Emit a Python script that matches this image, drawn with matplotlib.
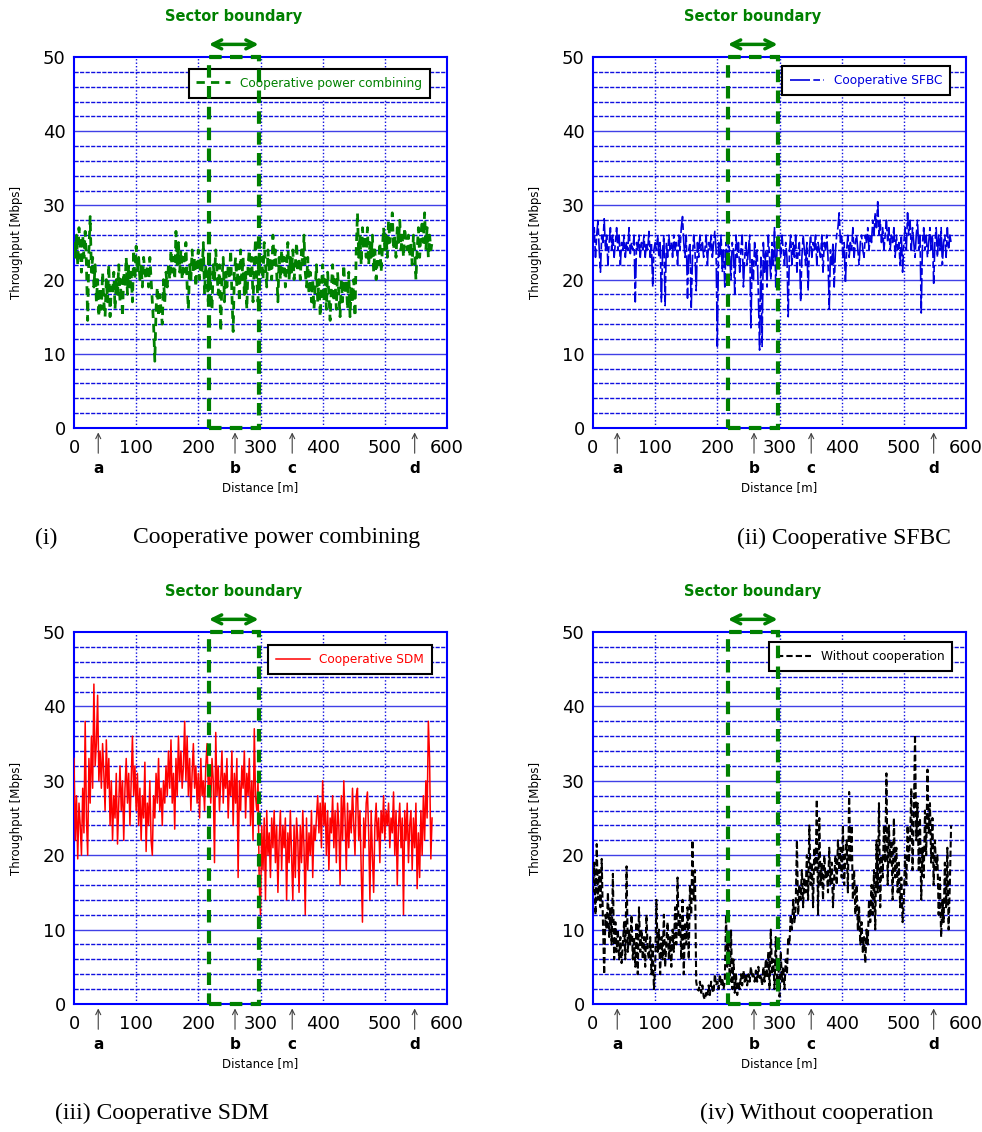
import numpy as np
import matplotlib.pyplot as plt
from matplotlib.patches import Rectangle

# throughput samples every 2 m along the route, 0 .. 576 m
step = 2

power_comb = [
    25, 23, 26, 22, 27, 24, 21, 26, 23, 26.5, 22, 14.5, 24, 28.5, 21, 23, 19, 22, 17, 20, 15, 19, 16, 21, 17,
    15, 20, 17, 22, 15, 19, 18, 21, 16, 20, 18, 22, 17, 20, 15, 21, 19, 23, 18, 22, 19, 21, 17, 24, 20,
    24.5, 21, 23, 20, 22, 19, 23, 21, 20, 22, 19, 23, 20, 17, 14, 9, 16, 19, 15, 18, 16, 14, 20, 17, 21,
    19, 22, 20, 24, 21, 23, 20, 26.5, 22, 25, 21, 24, 20, 23, 21, 25, 19, 16, 22, 20, 24, 21, 23, 19, 22,
    24, 20, 23, 21, 25, 18, 22, 20, 17, 23, 19, 16, 22, 20, 24, 21, 18, 22, 13, 20, 23, 17, 21, 19, 22,
    20, 24, 18, 13, 21, 23, 19, 22, 17, 24, 20, 23, 18, 21, 16, 22, 24, 20, 23, 17, 22, 25.5, 20, 17, 24,
    21, 23, 20, 25, 22, 19, 24, 21, 23, 20, 26, 22, 24, 21, 17, 23, 20, 24, 21, 23, 19, 22, 25, 20, 23,
    21, 24, 20, 22, 25, 21, 23, 20, 24, 22, 26, 21, 19, 23, 18, 21, 17, 20, 16, 19, 22, 17, 20, 15, 19,
    22, 17, 20, 16, 21, 18, 14.5, 19, 22, 17, 20, 16, 21, 18, 15, 20, 17, 22, 18, 20, 16, 21, 15, 19, 17,
    20, 15, 24, 29, 23, 26, 22, 27, 24, 26, 23, 27, 22, 25, 23, 26, 21, 24, 20, 23, 22, 25, 21, 24, 27,
    24, 26, 23, 28, 25, 27, 29, 24, 26, 23, 27, 25, 28, 24, 26, 23, 27, 25, 24, 26, 23, 25, 22, 26, 24,
    20, 24, 27, 23, 26, 28, 25, 29, 24, 27, 23, 26, 24, 25,
]

sfbc = [
    25, 27, 23, 26, 28, 24, 21, 26, 25, 28.2, 24, 26, 22, 25, 27, 24, 26, 23, 25, 27, 24, 26, 22, 25, 24,
    26, 23, 25, 24, 27, 23.5, 25, 24, 26, 17, 25, 24, 26, 23, 25, 24, 26, 23, 25, 24, 26.5, 23, 25, 19, 24,
    25, 24, 26, 23, 25, 17, 24, 26, 16.5, 25, 23, 26, 24, 25, 23, 26, 24, 25, 22, 26, 24, 27, 28.5, 25, 23,
    26, 17.5, 24, 25, 16, 23, 26, 24, 18.5, 25, 23, 26, 24, 25, 23, 24, 26, 22, 25, 24, 26, 23, 25, 26.5, 24,
    11, 25, 23, 26, 21, 24, 19, 25, 22, 26, 23, 20, 25, 24, 18, 26, 23, 25, 21, 24, 26, 19, 23, 25, 22,
    24, 26, 13.5, 23, 20, 25, 22, 24, 18, 10.5, 23, 11, 25, 21, 24, 19, 26, 23, 20, 25, 22, 27, 19, 24, 26,
    25, 23, 26, 24, 22, 25, 23, 15, 24, 26, 22, 25, 23, 26, 21, 24, 25, 17, 23, 26, 24, 22, 25, 18.5, 24,
    26, 23, 25, 24, 26, 22, 25, 24, 23, 26, 21, 25, 24, 26, 23, 16, 24, 22, 25, 19, 24, 26, 27, 29, 25,
    26, 23, 25, 19.5, 24, 26, 23, 25, 24, 27, 23, 25, 26, 24, 22, 25, 26, 24, 23, 26, 25, 27, 24, 26, 25,
    28, 26, 29, 27, 30.5, 26, 28, 25, 27, 24, 26, 28, 25, 27, 24, 26, 25, 27, 23, 26, 24, 25, 22, 26, 21,
    25, 27, 24, 29, 26, 28, 24, 27, 25, 23, 26, 28, 24, 26, 15.5, 25, 27, 24, 26, 23, 25, 27, 24, 26, 19.5,
    25, 27, 23, 26, 24, 27, 22, 25, 26, 23, 27, 24, 26, 25,
]

sdm = [
    33, 22, 28, 19.5, 27, 24, 20, 29, 23, 38, 25, 20, 33, 27, 36, 29, 43, 32, 35, 41.5, 30, 34, 29, 35, 31,
    26, 35.5, 29, 33, 24, 30, 22, 28, 25, 31, 21.5, 27, 32, 26, 30, 22, 29, 33, 27, 31, 24, 30, 36, 28, 32,
    26, 31, 24, 29, 22, 28, 25, 32.5, 20.5, 27, 24, 30, 22, 20, 28, 25, 31, 27, 33, 26, 29, 24, 30, 27, 32,
    28, 34, 29, 35.5, 27, 31, 23.5, 33, 28, 36, 30, 34, 29, 32, 38, 30, 36, 28, 33, 26, 31, 35, 29, 32, 27,
    31, 25, 33, 28, 30, 26, 32, 35, 29, 31, 27, 33, 30, 19, 36.5, 28, 32, 26, 30, 34, 27, 31, 29, 33, 25,
    30, 28, 34, 24, 31, 27, 33, 17, 30, 26, 32, 29, 34, 25, 31, 28, 33, 24, 30, 22, 37, 28, 26, 30, 16,
    12, 24, 18, 25, 14, 26, 20, 23, 17, 25, 21, 26, 19, 24, 15, 22, 26, 18, 24, 21, 25, 14, 23, 19, 26,
    20, 14, 24, 17, 25, 22, 15, 24, 19, 26, 21, 12, 25, 18, 23, 20, 26, 17, 24, 22, 25, 28, 23, 27, 21,
    30, 24, 27, 20, 26, 18, 25, 23, 28, 21, 26, 19, 27, 24, 16, 28, 22, 30, 25, 18, 27, 21, 26, 23, 29,
    24, 20, 28, 29, 22, 26, 18, 11, 25, 21, 27, 28.5, 23, 14, 26, 20, 15, 24, 27, 22, 25, 19, 26, 23, 28,
    22, 26, 24, 27, 21, 25, 23, 28.5, 20, 26, 16, 24, 27, 21, 25, 12, 26, 22, 27, 19, 24, 26, 18, 25, 21,
    27, 15.5, 23, 17, 26, 20, 28, 22, 30, 25, 38, 33, 19.5, 25,
]

no_coop = [
    15, 19, 12, 21.5, 14, 18, 13, 19.5, 11, 4, 12, 10, 15, 9, 13, 8, 17.5, 6, 11, 7, 10, 6, 9, 5.5, 8,
    11, 6, 18.5, 7, 10, 8, 12, 6, 9, 5, 11, 4, 13, 7, 10, 6, 9, 5, 12, 7, 6, 9, 4, 8, 2,
    5, 14, 7, 10, 4, 9, 6, 12, 5, 8, 11, 6, 9, 5, 10, 7, 13, 8, 17, 9, 12, 6, 14, 4, 11,
    8, 13, 6, 16, 12, 22, 14, 18, 3, 2, 1.8, 3, 1.5, 2.5, 1, 0.6, 1.5, 1, 2.5, 1.2, 3, 2, 1.5, 4, 2.5,
    3, 2, 4, 2.5, 3.5, 2, 3, 12, 5, 9, 3, 10, 2, 6, 1.5, 4, 1.2, 3, 2, 4, 2.5, 4.5, 3, 4, 2.5,
    4, 3, 5, 3.5, 4, 3, 4.5, 3, 5, 3.5, 4, 2.5, 5, 3, 6, 3.5, 7, 2, 10, 4, 6, 2, 9, 3, 6,
    1, 7, 3, 5, 2, 6, 4, 9, 8, 12, 10, 14, 11, 13, 22, 12, 16, 14, 18, 13, 17, 15, 20, 14, 24,
    16, 19, 13, 21, 18, 27.5, 12, 25, 16, 19, 14, 20, 17, 18, 15, 21, 16, 19, 13, 17, 20, 16, 22, 18, 21,
    17, 24, 16, 20, 22, 15, 28.5, 19, 24, 14, 18, 12, 16, 10, 13, 8, 11, 7, 9, 5.5, 10, 8, 14, 11, 16,
    12, 18, 10, 22, 15, 27, 13, 20, 17, 24, 19, 31, 16, 24, 19, 22, 14, 25, 17, 21, 15, 19, 13, 17, 11,
    14, 20, 16, 24, 19, 22, 29, 18, 25, 36.2, 22, 27, 18, 25, 14, 21, 17, 26, 20, 31.5, 23, 27, 19, 25, 16,
    22, 18, 20, 12, 17, 9, 14, 11, 19, 13, 21, 10, 16, 24,
]

labels = ['Cooperative power combining', 'Cooperative SFBC',
          'Cooperative SDM', 'Without cooperation']
marks = ['a', 'b', 'c', 'd']
mark_pos = [39, 259, 351, 548]
sector = [217, 297]

W, H = 982, 1132
fig = plt.figure(figsize=(W / 100, H / 100), dpi=100)

grid_blue = '#1010e0'
green = '#008000'

def make_panel(px_left, px_top, px_bottom, y, color, ls, lw, label, leg_anchor):
    ax = fig.add_axes([px_left / W, 1 - px_bottom / H, 373 / W, (px_bottom - px_top) / H])
    x = np.arange(len(y)) * step
    ax.plot(x, y, color=color, lw=lw, linestyle=ls, label=label, zorder=3)
    ax.set_xlim(0, 600)
    ax.set_ylim(0, 50)
    ax.set_xticks(range(0, 601, 100))
    ax.set_yticks(range(0, 51, 10))

    for v in range(2, 50, 2):
        if v % 10:
            ax.axhline(v, color=grid_blue, lw=1, ls=(0, (3, 1)), zorder=1)
        else:
            ax.axhline(v, color=grid_blue, lw=1, alpha=0.8, zorder=1)
    for v in range(100, 600, 100):
        ax.axvline(v, color=grid_blue, lw=1, ls=(0, (1, 1.5)), zorder=1)
    for s in ax.spines.values():
        s.set_color('#0000ff')
        s.set_linewidth(1.5)

    ax.tick_params(length=0, labelsize=13, pad=8)
    ax.tick_params(axis='y', pad=6)
    ax.set_xlabel('Distance [m]', fontsize=8.5, labelpad=17)
    ax.set_ylabel('Throughput [Mbps]', fontsize=8.5, labelpad=14)

    # sector boundary box, arrow and title
    ax.add_patch(Rectangle((sector[0], 0), sector[1] - sector[0], 50, fill=False,
                           edgecolor=green, lw=3, ls=(0, (3, 2)), clip_on=False, zorder=6))
    ax.annotate('', xy=(sector[0], 51.7), xytext=(sector[1], 51.7),
                arrowprops=dict(arrowstyle='<->', color=green, lw=2.5, mutation_scale=16,
                                shrinkA=0, shrinkB=0), annotation_clip=False)
    ax.text(256, 55.5, 'Sector boundary', color=green, fontsize=10.5, fontweight='bold',
            ha='center', va='center', clip_on=False)

    tr = ax.get_xaxis_transform()
    for m, p in zip(marks, mark_pos):
        ax.annotate('', xy=(p, -0.012), xytext=(p, -0.068), xycoords=tr, textcoords=tr,
                    arrowprops=dict(arrowstyle='->', color='0.25', lw=0.8, mutation_scale=9,
                                    shrinkA=0, shrinkB=0), annotation_clip=False)
        ax.text(p, -0.108, m, transform=tr, ha='center', va='center',
                fontsize=11, fontweight='bold')

    leg = ax.legend(loc='upper right', bbox_to_anchor=leg_anchor, fancybox=False,
                    edgecolor='black', framealpha=1, fontsize=8.7, labelcolor='linecolor',
                    handlelength=2.8, borderaxespad=0, borderpad=0.65)
    leg.get_frame().set_linewidth(1.5)
    leg.set_zorder(5)
    return ax

make_panel(74, 57, 428, power_comb, green, (0, (3, 2.2)), 2, labels[0], (0.954, 0.968))
make_panel(593, 57, 428, sfbc, '#0000dd', (0, (12, 2, 4, 2)), 1.2, labels[1], (0.957, 0.976))
make_panel(74, 632, 1004, sdm, '#ff0000', '-', 1.1, labels[2], (0.96, 0.965))
make_panel(593, 632, 1004, no_coop, 'black', (0, (3, 1.5)), 1.5, labels[3], (0.963, 0.973))

cap = dict(fontsize=17, family='Liberation Serif', va='center')
fig.text(35 / W, 1 - 538 / H, '(i)', ha='left', **cap)
fig.text(133 / W, 1 - 538 / H, labels[0], ha='left', **cap)
fig.text(951 / W, 1 - 538 / H, '(ii) ' + labels[1], ha='right', **cap)
fig.text(55 / W, 1 - 1113 / H, '(iii) ' + labels[2], ha='left', **cap)
fig.text(933 / W, 1 - 1113 / H, '(iv) ' + labels[3], ha='right', **cap)

fig.savefig('out.png', dpi=100)
